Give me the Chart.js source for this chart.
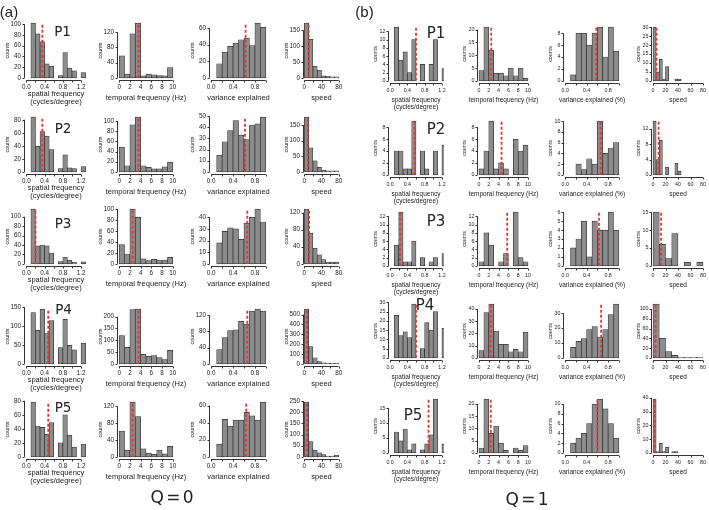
<!DOCTYPE html>
<html>
<head>
<meta charset="utf-8">
<script src="https://cdn.jsdelivr.net/npm/chart.js@4.4.1/dist/chart.umd.min.js"></script>
<style>
  body { margin: 0; background: #fff; }
  #fig { position: relative; width: 709px; height: 510px; overflow: hidden; font-family: "Liberation Sans", Arial, sans-serif; color: #222; }
  #fig canvas { position: absolute; }
  .txt { position: absolute; white-space: nowrap; line-height: 1; transform: translate(-50%, -50%); }
</style>
</head>
<body>
<div id="fig"></div>
<script>
// bin centres
const spatialBins = [0.15, 0.25, 0.35, 0.45, 0.55, 0.65, 0.75, 0.85, 0.95, 1.05, 1.15, 1.25];
const temporalBins = [0.5, 1.5, 2.5, 3.5, 4.5, 5.5, 6.5, 7.5, 8.5, 9.5];
const varianceBins = [0.15, 0.25, 0.35, 0.45, 0.55, 0.65, 0.75, 0.85, 0.95];
const speedBins10 = [5, 15, 25, 35, 45, 55, 65, 75];
const speedBins5 = [2.5, 7.5, 12.5, 17.5, 22.5, 27.5, 32.5, 37.5, 42.5];
const q1SpeedBinWidth = [5, 5, 10, 10, 5];

// x axis ticks
const spatialTicks = [0, 0.2, 0.4, 0.6, 0.8, 1.0, 1.2];
const spatialLabels = [0, 0.4, 0.8, 1.2];
const temporalTicks = [0, 2, 4, 6, 8, 10];
const varianceTicks = [0, 0.2, 0.4, 0.6, 0.8, 1.0];
const varianceLabels = [0, 0.4, 0.8];
const speedTicks = [0, 20, 40, 60, 80];
const q0SpeedLabels = [0, 40, 80];

// Q = 0, rows P1..P5
const q0Spatial = [
  [102, 82, 67, 26, 22, 0, 4, 47, 18, 13, 0, 10],
  [84, 39, 62, 55, 34, 0, 5, 26, 6, 5, 0, 8],
  [116, 38, 40, 38, 23, 0, 5, 14, 8, 3, 0, 4],
  [136, 89, 145, 80, 115, 0, 43, 118, 49, 37, 0, 55],
  [78, 44, 42, 32, 49, 0, 20, 60, 31, 14, 0, 18]
];
const q0Temporal = [
  [58, 10, 116, 144, 5, 10, 8, 6, 5, 27],
  [49, 12, 93, 108, 12, 9, 6, 6, 10, 19],
  [35, 18, 100, 85, 9, 6, 8, 7, 7, 12],
  [120, 70, 230, 232, 40, 32, 35, 27, 18, 57],
  [61, 16, 130, 96, 19, 9, 6, 16, 7, 25]
];
const q0Variance = [
  [17, 31, 38, 42, 46, 48, 39, 66, 61],
  [15, 27, 37, 46, 33, 29, 42, 43, 49],
  [18, 28, 31, 30, 21, 35, 40, 47, 36],
  [35, 65, 82, 84, 105, 98, 130, 135, 130],
  [15, 44, 36, 43, 43, 52, 48, 43, 64]
];
const q0Speed = [
  [173, 122, 37, 24, 6, 5, 3, 3],
  [175, 77, 35, 14, 5, 3, 3, 3],
  [128, 72, 37, 21, 10, 4, 4, 4],
  [555, 175, 62, 22, 10, 8, 6, 6],
  [245, 68, 30, 18, 10, 3, 3, 7]
];
const q0SpatialMed = [0.35, 0.35, 0.2, 0.48, 0.48];
const q0TemporalMed = [3.6, 3.6, 2.5, 3.6, 2.5];
const q0VarianceMed = [0.63, 0.62, 0.66, 0.66, 0.64];
const q0SpeedMed = [10, 8, 11, 6, 6];
// y ticks [last, step]
const q0SpatialY = [[100, 20], [80, 20], [100, 20], [150, 50], [80, 20]];
const q0TemporalY = [[140, 20], [100, 20], [100, 20], [200, 50], [120, 20]];
const q0VarianceY = [[60, 10], [50, 10], [40, 10], [140, 20], [60, 10]];
const q0SpeedY = [[150, 50], [150, 50], [120, 20], [500, 100], [250, 50]];

// Q = 1, rows P1..P5
const q1Spatial = [
  [13, 5, 7, 2, 10, 0, 4, 0, 4, 10, 0, 3],
  [4, 4, 1, 1, 9, 0, 4, 1, 0, 4, 0, 5],
  [5, 13, 1, 1, 6, 0, 2, 0, 1, 2, 0, 3],
  [23, 12, 14, 11, 29, 0, 5, 19, 15, 25, 0, 16],
  [7, 4, 8, 1, 3, 0, 1, 3, 6, 18, 0, 3]
];
const q1Temporal = [
  [4, 21, 12, 3, 3, 2, 5, 2, 5, 1],
  [1, 4, 9, 1, 2, 1, 0, 6, 4, 5],
  [1, 8, 5, 0, 1, 3, 0, 13, 2, 1],
  [6, 37, 44, 22, 11, 11, 5, 7, 5, 21],
  [2, 22, 8, 11, 4, 1, 0, 2, 1, 3]
];
const q1Variance = [
  [1, 8, 8, 6, 8, 9, 4, 9, 5],
  [0, 2, 1, 3, 2, 10, 4, 5, 6],
  [2, 3, 5, 1, 5, 4, 4, 6, 4],
  [7, 11, 13, 19, 21, 14, 19, 29, 36],
  [2, 3, 4, 6, 10, 11, 9, 6, 3]
];
const q1Speed = [
  [30, 5, 12, 1, 8, 0, 0, 1, 1],
  [14, 4, 9, 0, 2, 0, 0, 3, 1],
  [15, 6, 2, 9, 0, 1, 0, 1],
  [110, 40, 13, 5, 1, 1, 1, 1],
  [39, 1, 7, 1, 4, 0, 1, 1, 0]
];
const q1SpatialMed = [0.6, 0.57, 0.23, 0.6, 0.89];
const q1TemporalMed = [2.5, 4.6, 5.75, 2.4, 2.4];
const q1VarianceMed = [0.58, 0.66, 0.63, 0.67, 0.6];
const q1SpeedMed = [5.5, 9, 13, 4, 3];
const q1SpatialY = [[12, 2], [8, 2], [12, 2], [30, 5], [15, 5]];
const q1TemporalY = [[20, 5], [8, 2], [12, 2], [40, 10], [20, 5]];
const q1VarianceY = [[8, 2], [10, 2], [6, 1], [35, 5], [10, 2]];
const q1SpeedY = [[30, 5], [14, 2], [15, 5], [100, 20], [40, 10]];

const YW = 32, XH = 32, PT = 8, PR = 16;
const fig = document.getElementById('fig');

// R-like axes: detached lines from first to last tick, median line, titles
const rStyle = {
  id: 'rStyle',
  afterDraw(chart, args, o) {
    const { ctx, chartArea: a } = chart;
    const x = chart.scales.x, y = chart.scales.y;
    ctx.save();
    ctx.strokeStyle = '#333';
    ctx.lineWidth = 1;
    ctx.beginPath();
    const ax = Math.round(a.left) + 0.5;
    const yt = y.ticks;
    ctx.moveTo(ax, y.getPixelForValue(yt[0].value));
    ctx.lineTo(ax, y.getPixelForValue(yt[yt.length - 1].value));
    yt.forEach(t => {
      const py = Math.round(y.getPixelForValue(t.value)) + 0.5;
      ctx.moveTo(ax, py); ctx.lineTo(ax - 2, py);
    });
    const ay = Math.round(a.bottom) + 0.5;
    const xt = x.ticks;
    ctx.moveTo(x.getPixelForValue(xt[0].value), ay);
    ctx.lineTo(x.getPixelForValue(xt[xt.length - 1].value), ay);
    xt.forEach(t => {
      const px = Math.round(x.getPixelForValue(t.value)) + 0.5;
      ctx.moveTo(px, ay); ctx.lineTo(px, ay + 2);
    });
    ctx.stroke();

    ctx.strokeStyle = '#e8352b';
    ctx.lineWidth = 1.8;
    ctx.setLineDash([3, 2]);
    const mx = x.getPixelForValue(o.median);
    ctx.beginPath();
    ctx.moveTo(mx, y.getPixelForValue(0));
    ctx.lineTo(mx, y.getPixelForValue(o.top));
    ctx.stroke();
    ctx.setLineDash([]);

    ctx.fillStyle = '#222';
    ctx.textAlign = 'center';
    ctx.textBaseline = 'middle';
    ctx.font = o.titleSize + 'px "Liberation Sans"';
    const offs = o.titleY[o.xTitle.length - 1];
    o.xTitle.forEach((line, i) => ctx.fillText(line, (a.left + a.right) / 2, a.bottom + offs[i]));
    ctx.font = o.countsSize + 'px "Liberation Sans"';
    ctx.translate(a.left - o.countsDx, (a.top + a.bottom) / 2);
    ctx.rotate(-Math.PI / 2);
    ctx.fillText('counts', 0, 0);
    ctx.restore();
  }
};

function makeHist(f, r, c, bins, vals, med, yt, xt, xl, title) {
  const [lo, hi, p0, p1] = f.cols[c];
  const span = hi - lo, pspan = p1 - p0;
  const L = p0 - 0.04 * pspan, R = p1 + 0.04 * pspan;
  const T = f.base[r] - 1.04 * f.h, B = f.base[r] + 0.04 * f.h;
  const cv = document.createElement('canvas');
  cv.width = Math.round(R - L) + YW + PR;
  cv.height = Math.round(B - T) + PT + XH;
  cv.style.left = (Math.round(L) - YW) + 'px';
  cv.style.top = (Math.round(T) - PT) + 'px';
  fig.appendChild(cv);

  const ymax = Math.max(...vals);
  const yticks = [];
  for (let v = 0; v <= yt[0]; v += yt[1]) yticks.push(v);
  const dec = (c === 0 || c === 2) ? 1 : 0;
  const tickFont = { family: 'Liberation Sans', size: f.tickSize };

  new Chart(cv, {
    type: 'bar',
    data: {
      datasets: [{
        data: bins.map((b, i) => ({ x: b, y: vals[i] })),
        backgroundColor: '#8c8c8c',
        borderColor: '#2e2e2e',
        borderWidth: 0.7,
        borderSkipped: false,
        barPercentage: 1,
        categoryPercentage: 1,
        clip: 0
      }]
    },
    options: {
      responsive: false,
      animation: false,
      events: [],
      layout: { padding: { left: 0, top: PT, right: PR, bottom: 0 } },
      plugins: {
        legend: { display: false },
        tooltip: { enabled: false },
        rStyle: {
          median: med, top: ymax, xTitle: title,
          titleY: f.titleY, titleSize: f.titleSize,
          countsSize: f.countsSize, countsDx: f.countsDx
        }
      },
      scales: {
        x: {
          type: 'linear', bounds: 'data', offset: false,
          min: lo - 0.04 * span, max: hi + 0.04 * span,
          grid: { display: false, drawTicks: false }, border: { display: false },
          afterBuildTicks: s => { s.ticks = xt.map(v => ({ value: v })); },
          afterFit: s => { s.height = XH; s.paddingLeft = 0; s.paddingRight = 0; },
          ticks: {
            autoSkip: false, maxRotation: 0, padding: f.tickPad, color: '#222', font: tickFont,
            callback: v => xl.includes(v) ? v.toFixed(dec) : ''
          }
        },
        y: {
          type: 'linear', bounds: 'data',
          min: -0.04 * ymax, max: 1.04 * ymax,
          grid: { display: false, drawTicks: false }, border: { display: false },
          afterBuildTicks: s => { s.ticks = yticks.map(v => ({ value: v })); },
          afterFit: s => { s.width = YW; s.paddingTop = 0; s.paddingBottom = 0; },
          ticks: { padding: f.yPad, color: '#222', font: tickFont, callback: v => String(v) }
        }
      }
    },
    plugins: [rStyle]
  });
}

const figA = {
  cols: [[0, 1.3, 26.7, 85.5], [0, 10, 119.3, 173.3], [0, 1, 211, 266], [0, 80, 304.5, 338.5]],
  base: [78.3, 172.3, 264.5, 364, 456.7], h: 55,
  tickSize: 6.3, titleSize: 7.5, countsSize: 5.5, countsDx: 17,
  tickPad: 3, yPad: 3, titleY: [[18], [14, 21.5]]
};
const figB = {
  cols: [[0, 1.2, 390, 442], [0, 10, 479, 527.7], [0, 1, 565, 618.5], [0, 80, 652.7, 702.7]],
  base: [81, 175, 266, 358, 453], h: 54,
  tickSize: 5.3, titleSize: 6.5, countsSize: 5.3, countsDx: 12,
  tickPad: 4.5, yPad: 2.5, titleY: [[17], [17, 24.5]]
};

for (let r = 0; r < 5; r++) {
  makeHist(figA, r, 0, spatialBins, q0Spatial[r], q0SpatialMed[r], q0SpatialY[r], spatialTicks, spatialLabels, ['spatial frequency', '(cycles/degree)']);
  makeHist(figA, r, 1, temporalBins, q0Temporal[r], q0TemporalMed[r], q0TemporalY[r], temporalTicks, temporalTicks, ['temporal frequency (Hz)']);
  makeHist(figA, r, 2, varianceBins, q0Variance[r], q0VarianceMed[r], q0VarianceY[r], varianceTicks, varianceLabels, ['variance explained']);
  makeHist(figA, r, 3, speedBins10, q0Speed[r], q0SpeedMed[r], q0SpeedY[r], speedTicks, q0SpeedLabels, ['speed']);

  makeHist(figB, r, 0, spatialBins, q1Spatial[r], q1SpatialMed[r], q1SpatialY[r], spatialTicks, spatialLabels, ['spatial frequency', '(cycles/degree)']);
  makeHist(figB, r, 1, temporalBins, q1Temporal[r], q1TemporalMed[r], q1TemporalY[r], temporalTicks, temporalTicks, ['temporal frequency (Hz)']);
  makeHist(figB, r, 2, varianceBins, q1Variance[r], q1VarianceMed[r], q1VarianceY[r], varianceTicks, varianceLabels, ['variance explained (%)']);
  const sb = q1SpeedBinWidth[r] === 5 ? speedBins5 : speedBins10;
  makeHist(figB, r, 3, sb.slice(0, q1Speed[r].length), q1Speed[r], q1SpeedMed[r], q1SpeedY[r], speedTicks, speedTicks, ['speed']);
}

// text labels
function addText(t, x, y, size, family, extra) {
  const d = document.createElement('div');
  d.className = 'txt';
  d.textContent = t;
  d.style.left = x + 'px';
  d.style.top = y + 'px';
  d.style.fontSize = size + 'px';
  if (family) d.style.fontFamily = family;
  if (extra) Object.assign(d.style, extra);
  fig.appendChild(d);
}
addText('(a)', 9, 11, 15, '"Liberation Sans"');
addText('(b)', 364.5, 11, 15, '"Liberation Sans"');
const pA = [[62.5, 32], [63, 129], [63, 224], [63.5, 309.5], [63, 408]];
const pB = [[436, 33], [436, 129], [436, 221], [425, 305], [413, 415]];
pA.forEach((p, i) => addText('P' + (i + 1), p[0], p[1], 13.5, '"DejaVu Sans"'));
pB.forEach((p, i) => addText('P' + (i + 1), p[0], p[1], 15, '"DejaVu Sans"'));
addText('Q = 0', 172, 497, 17, '"DejaVu Sans"', { wordSpacing: '-3px' });
addText('Q = 1', 527, 499, 17, '"DejaVu Sans"', { wordSpacing: '-3px' });
</script>
</body>
</html>
